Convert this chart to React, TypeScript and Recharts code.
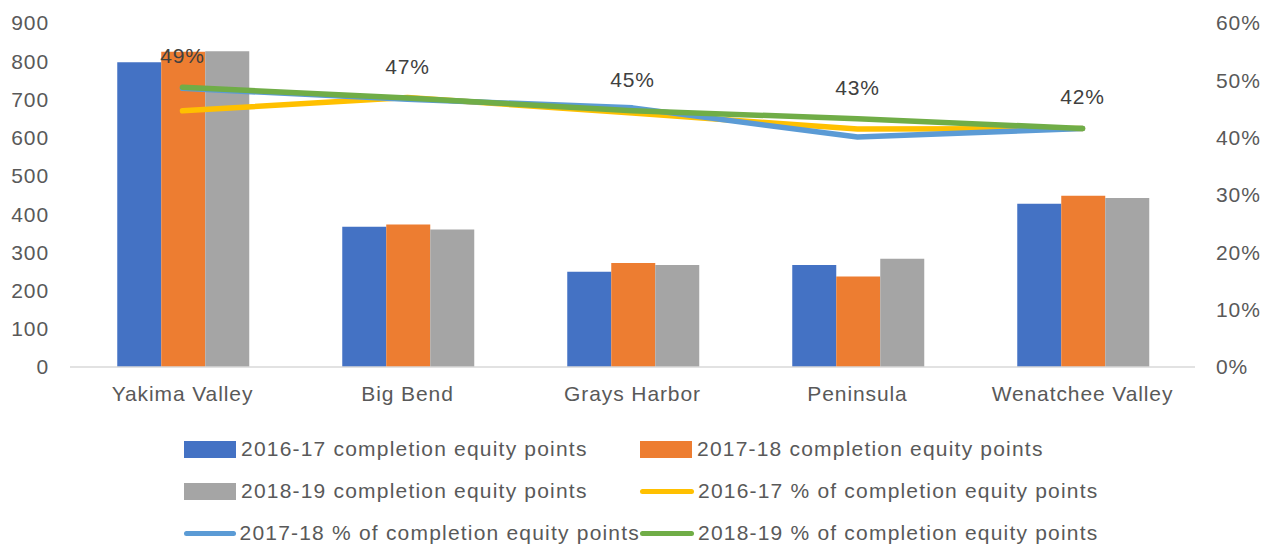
import React from "react";
import {
  ComposedChart,
  Bar,
  Line,
  XAxis,
  YAxis,
  Legend,
  LabelList,
} from "recharts";

const categories = ["Yakima Valley", "Big Bend", "Grays Harbor", "Peninsula", "Wenatchee Valley"];
const points1617 = [797, 367, 249, 267, 427];
const points1718 = [825, 373, 272, 237, 448];
const points1819 = [826, 360, 267, 283, 442];
const pct1617 = [44.7, 47.0, 44.3, 41.5, 41.6];
const pct1718 = [48.6, 46.7, 45.2, 40.1, 41.6];
const pct1819 = [48.8, 46.9, 44.7, 43.3, 41.6];
const leftTicks = [0, 100, 200, 300, 400, 500, 600, 700, 800, 900];
const rightTicks = [0, 10, 20, 30, 40, 50, 60];

const data = categories.map((name, i) => ({
  name,
  b1617: points1617[i],
  b1718: points1718[i],
  b1819: points1819[i],
  p1617: pct1617[i],
  p1718: pct1718[i],
  p1819: pct1819[i],
}));

const FONT = "'Liberation Sans', Arial, sans-serif";
const TEXT = "#595959";
const FS = 21;
const LS = 0.9;

const tickStyle = { fill: TEXT, fontSize: FS, fontFamily: FONT, letterSpacing: LS };

const legendItems = [
  { label: "2016-17 completion equity points", color: "#4472C4", type: "bar" },
  { label: "2017-18 completion equity points", color: "#ED7D31", type: "bar" },
  { label: "2018-19 completion equity points", color: "#A5A5A5", type: "bar" },
  { label: "2016-17 % of completion equity points", color: "#FFC000", type: "line" },
  { label: "2017-18 % of completion equity points", color: "#5B9BD5", type: "line" },
  { label: "2018-19 % of completion equity points", color: "#70AD47", type: "line" },
];

const CustomLegend = () => (
  <div
    style={{
      display: "grid",
      gridTemplateColumns: "456px 520px",
      rowGap: 0,
      paddingLeft: 184,
      paddingTop: 13,
      fontFamily: FONT,
      fontSize: FS,
      letterSpacing: 1.2,
      color: TEXT,
    }}
  >
    {legendItems.map((it) => (
      <div key={it.label} style={{ display: "flex", alignItems: "center", height: 42 }}>
        {it.type === "bar" ? (
          <div style={{ width: 52, height: 17, background: it.color, marginRight: 5 }} />
        ) : (
          <div
            style={{
              width: 54,
              height: 5,
              background: it.color,
              borderRadius: 3,
              marginRight: 4,
            }}
          />
        )}
        <span style={{ whiteSpace: "nowrap" }}>{it.label}</span>
      </div>
    ))}
  </div>
);

export default function App() {
  return (
    <div style={{ position: "absolute", left: 0, top: 0, background: "#fff", fontFamily: FONT }}>
      <ComposedChart
        width={1270}
        height={545}
        data={data}
        margin={{ top: 23, right: 0, bottom: 0, left: 0 }}
        barCategoryGap="21%"
        barGap={0}
      >
        <XAxis
          dataKey="name"
          tickLine={false}
          axisLine={{ stroke: "#D9D9D9", strokeWidth: 1.5 }}
          tick={tickStyle}
          tickSize={0}
          tickMargin={19}
          height={48}
          interval={0}
        />
        <YAxis
          yAxisId="left"
          orientation="left"
          domain={[0, 900]}
          ticks={leftTicks}
          width={70}
          axisLine={false}
          tickLine={false}
          tickSize={0}
          tickMargin={21}
          tick={tickStyle}
        />
        <YAxis
          yAxisId="right"
          orientation="right"
          domain={[0, 60]}
          ticks={rightTicks}
          width={75}
          axisLine={false}
          tickLine={false}
          tickSize={0}
          tickMargin={21}
          tickFormatter={(v: number) => `${v}%`}
          tick={tickStyle}
        />
        <Legend verticalAlign="bottom" height={130} content={<CustomLegend />} />
        <Bar yAxisId="left" dataKey="b1617" fill="#4472C4" isAnimationActive={false} />
        <Bar yAxisId="left" dataKey="b1718" fill="#ED7D31" isAnimationActive={false} />
        <Bar yAxisId="left" dataKey="b1819" fill="#A5A5A5" isAnimationActive={false} />
        <Line
          yAxisId="right"
          dataKey="p1617"
          stroke="#FFC000"
          strokeWidth={5.5}
          strokeLinecap="round"
          strokeLinejoin="round"
          dot={false}
          activeDot={false}
          isAnimationActive={false}
        />
        <Line
          yAxisId="right"
          dataKey="p1718"
          stroke="#5B9BD5"
          strokeWidth={5.5}
          strokeLinecap="round"
          strokeLinejoin="round"
          dot={false}
          activeDot={false}
          isAnimationActive={false}
        />
        <Line
          yAxisId="right"
          dataKey="p1819"
          stroke="#70AD47"
          strokeWidth={5.5}
          strokeLinecap="round"
          strokeLinejoin="round"
          dot={false}
          activeDot={false}
          isAnimationActive={false}
        >
          <LabelList
            dataKey="p1819"
            position="top"
            offset={24}
            formatter={(v: number) => `${Math.round(v)}%`}
            style={{ fill: "#404040", fontSize: FS, fontFamily: FONT, letterSpacing: LS }}
          />
        </Line>
      </ComposedChart>
    </div>
  );
}
